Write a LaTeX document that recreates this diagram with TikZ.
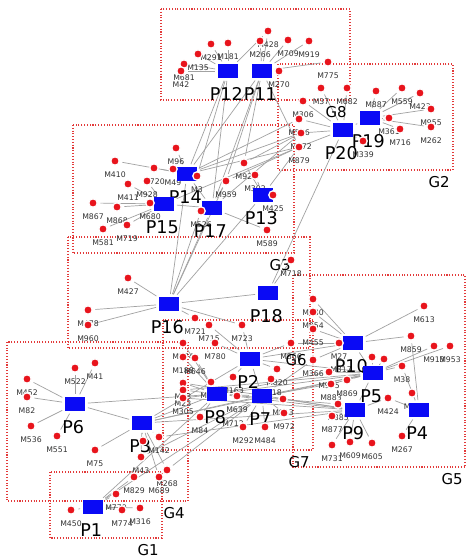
\documentclass[tikz,border=0pt]{standalone}
\usepackage{fontspec}
\setmainfont{DejaVu Sans}
\usetikzlibrary{positioning,backgrounds}
\pgfdeclarelayer{front}
\pgfsetlayers{background,main,front}
\definecolor{dotred}{HTML}{E8141C}
\definecolor{sqblue}{HTML}{0A0AF5}
\definecolor{boxred}{HTML}{E33A3A}
\definecolor{linkgray}{HTML}{A2A2A2}
\definecolor{lblgray}{HTML}{333333}

\begin{document}
\begin{tikzpicture}[
    x=0.02cm, y=-0.02cm,
    dot/.style={circle, fill=dotred, draw=white, line width=0.7pt, minimum size=4.8pt, inner sep=0pt},
    psq/.style={rectangle, fill=sqblue, minimum width=0.4cm, minimum height=0.28cm, inner sep=0pt},
    mlbl/.style={font=\fontsize{4.4}{5}\selectfont, text=lblgray, inner sep=0pt},
    plbl/.style={font=\fontsize{10}{12}\selectfont, inner sep=0pt, xshift=-1pt},
    glbl/.style={font=\fontsize{8.5}{10}\selectfont, inner sep=0pt},
    grp/.style={boxred, densely dotted, line width=0.6pt},
    link/.style={linkgray, line width=0.4pt, shorten <=1.5pt, shorten >=1.5pt},
  ]
    \useasboundingbox (0,0) rectangle (466,558);

    % ===== M nodes: number / x / y =====
    \def\mnodes{428/268/31, 291/211/44, 181/228/43, 266/260/41, 709/288/40, 919/309/41,
      135/198/54, 681/184/64, 42/181/71, 775/328/62, 270/279/71, 37/321/88, 682/347/88,
      887/376/91, 559/402/88, 423/420/93, 955/431/109, 361/389/118, 716/400/129,
      262/431/127, 339/363/141, 306/303/101, 586/299/119, 872/301/133, 879/299/147,
      96/176/148, 410/115/161, 720/154/168, 49/173/169, 928/147/181, 411/128/184,
      680/150/203, 867/93/203, 868/117/207, 719/127/225, 581/103/229, 589/267/230,
      3/197/176, 526/201/211, 92/244/163, 959/226/181, 302/255/175, 425/273/195,
      427/128/278, 478/88/310, 960/88/325, 721/195/318, 715/209/325, 723/242/325,
      718/291/260, 880/313/299, 854/313/312, 455/313/329,
      874/183/343, 780/215/343, 188/183/357, 646/195/358, 866/291/343, 366/313/360,
      820/277/369, 818/271/379, 163/233/377, 862/211/382, 93/183/383, 23/183/390,
      305/183/398, 639/237/396, 813/283/399, 84/200/417, 292/243/427, 484/265/427,
      972/284/413,
      522/75/368, 41/95/363, 452/27/379, 82/27/397, 536/31/426, 551/57/436, 75/95/450,
      142/159/437, 43/141/457, 268/167/470, 829/134/477, 689/159/477, 779/116/494,
      774/122/510, 316/140/508, 450/71/510,
      27/339/343, 613/424/306, 859/411/336, 913/434/346, 953/450/346, 698/372/357,
      38/402/366, 869/347/380, 915/329/372, 883/331/384, 21/412/393, 424/388/398,
      885/338/404, 877/332/416, 267/402/436, 731/332/445, 609/350/442, 605/372/443}

    % ===== dots (drawn on top) =====
    \begin{pgfonlayer}{front}
      \foreach \n/\x/\y in \mnodes{
        \node[dot] (m\n) at (\x,\y) {};
      }
      \node[dot] (u1) at (143,441) {};
      \node[dot] (u2) at (384,359) {};
    \end{pgfonlayer}

    % ===== M labels =====
    \foreach \n/\x/\y in \mnodes{
      \node[mlbl, below=3.3pt of m\n] (m\n-t) {M\n};
    }
    \node[mlbl] (m317-t) at (341,370) {M317};
    \node[mlbl] (m712-t) at (233,424) {M712};

    % ===== P squares and labels =====
    \foreach \n/\x/\y in {12/228/71, 11/262/71, 20/343/130, 19/370/118, 14/187/174,
      15/164/204, 17/212/208, 13/263/195, 16/169/304, 18/268/293, 10/353/343,
      5/373/373, 9/355/410, 4/419/410, 2/250/359, 8/217/394, 7/262/396, 6/75/404,
      3/142/423, 1/93/507}{
      \node[psq] (p\n) at (\x,\y) {};
      \node[plbl, below=5.1pt of p\n] (p\n-t) {P\n};
    }

    \begin{pgfonlayer}{background}
      \fill[white] (0,0) rectangle (466,558);

      % ===== group boxes =====
      \foreach \g/\xa/\ya/\xb/\yb in {8/161/9/350/100, 2/278/64/453/170, 3/73/125/294/253,
        6/68/237/310/348, 5/293/275/465/467, 7/163/320/313/450, 4/7/342/188/501,
        1/50/472/162/538}{
        \draw[grp] (\xa,\ya) rectangle (\xb,\yb);
      }

      % ===== links =====
      \foreach \a/\b in {m291/p12, m181/p12, m135/p12, m681/p12, m42/p12, m428/p12,
        m428/p11, m266/p11, m709/p11, m919/p11, m270/p11, m775/p11,
        p12/p14, p12/p17, p11/p14, p11/p17, p11/m92, p11/m959, p12/m3, p11/m879,
        m37/p20, m682/p20, m306/p20, m586/p20, m872/p20, m879/p20, m339/p20,
        m887/p19, m559/p19, m423/p19, m955/p19, m361/p19, m716/p19, m262/p19, p20/p19,
        m872/p14, m872/p17, m879/p14, m879/p15, m879/p13, m586/p14, p20/p18,
        m879/m959, m872/m92,
        m96/p14, m410/p14, m720/p14, m49/p14, m3/p14, m928/p15, m411/p15, m680/p15,
        m867/p15, m868/p15, m719/p15, m581/p15, m959/p17, m526/p17, m92/p13,
        m302/p13, m425/p13, m589/p17, p14/p17, p15/p17,
        m427/p16, m478/p16, m960/p16, m721/p16, m723/p16, p16/p18, m718/p18,
        p16/p17, p16/p14, p16/m526, p16/m959, p16/p13,
        m880/p10, m854/p10, m455/p10,
        m780/p2, m723/p2, m715/p2, m866/p2, m820/p2, m163/p2,
        m874/p8, m188/p8, m646/p8, m862/p8, m93/p8, m23/p8, m305/p8, m84/p8, m639/p8,
        m818/p7, m813/p7, m972/p7, m292/p7, m484/p7, p2/p7, p8/p7,
        m27/p10, m613/p10, m859/p10, m366/p10, m866/p10,
        m913/p5, m953/p5, m38/p5, m698/p5, m869/p5, m915/p5, m883/p5,
        m21/p4, m424/p4, m424/p9, m885/p9, m877/p9, m731/p9, m609/p9, m605/p9,
        m267/p4, m38/p4, m859/p4, p10/p5, p5/p9, u2/p5,
        p8/p9, p8/p5, p7/p9, p7/p5, p2/p10, p2/p5, m305/p9, m23/p5, m93/p9,
        m366/p7, m915/p8, m883/p7, m885/p8,
        m522/p6, m41/p6, m452/p6, m82/p6, m536/p6, m551/p6, p6/p3,
        m75/p3, m142/p3, m43/p3, u1/p3, m268/p3, m689/p3,
        m829/p1, m779/p1, m774/p1, m316/p1, m450/p1, p1/p8, p1/p7,
        p3/p8, p3/p2, p3/p7, p3/p9, p3/p5, m142/p9, m268/p7, m43/p7, p6/p8}{
        \draw[link] (\a) -- (\b);
      }
    \end{pgfonlayer}

    % ===== group labels =====
    \foreach \g/\xb/\yb in {8/350/100, 2/453/170, 3/294/253, 6/310/348, 5/466/467,
      7/313/450, 4/188/501, 1/162/538}{
      \node[glbl, anchor=north east] (g\g) at (\xb-3,\yb+6) {G\g};
    }

\end{tikzpicture}
\end{document}
